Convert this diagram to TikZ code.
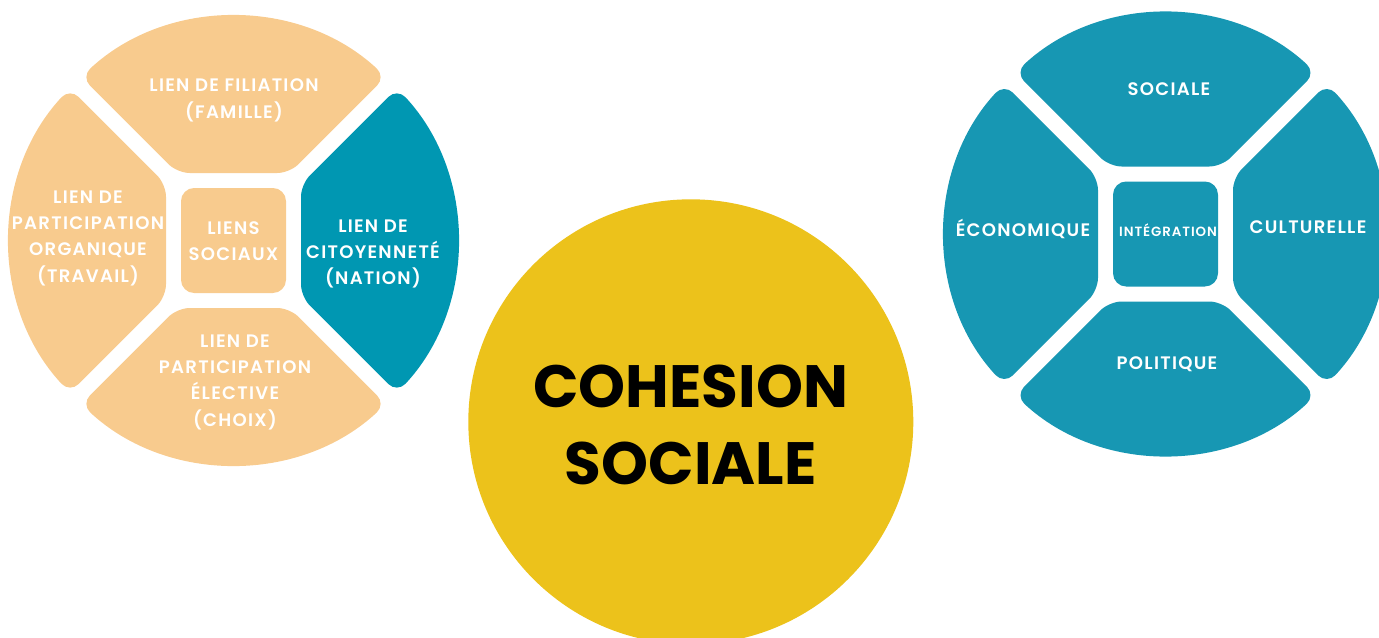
\documentclass[tikz,border=0pt]{standalone}
\usepackage{fontspec}
\setmainfont{Poppins}
\newfontfamily\segfont{Poppins SemiBold}[LetterSpace=7]
\newfontfamily\bigfont{Poppins Bold}
\usepackage{tikz}
\usetikzlibrary{calc}
\definecolor{peach}{HTML}{F8CB8E}
\definecolor{nationblue}{HTML}{0097B2}
\definecolor{integblue}{HTML}{1797B3}
\definecolor{mustard}{HTML}{ECC21B}

\begin{document}
\begin{tikzpicture}[line cap=round,line join=round,x=0.02cm,y=0.02cm,
        seg/.style={rounded corners=7pt},
        core/.style={rounded corners=7.5pt},
        lbl/.style={text=white,align=center,inner sep=0pt,font=\segfont\fontsize{10.3}{15}\selectfont}]
    \useasboundingbox (0,0) rectangle (1379,637);
    % liens sociaux
    \begin{scope}[shift={(233.5,396.5)}]
        \foreach \rot/\col in {0/peach,90/peach,180/peach,270/nationblue}
            \fill [seg,\col,rotate=\rot] (0,67.5) -- (-56.2,67.5) -- (132.95:223.5) arc [start angle=132.95,end angle=47.05,radius=223.5] -- (56.2,67.5) -- cycle;
        \fill [core,peach] (-52.5,-52.5) rectangle (52.5,52.5);
    \end{scope}
    \node [lbl] (filiation) at (234,536.5) {LIEN DE FILIATION\\(FAMILLE)};
    \node [lbl] (organique) at (88,399) {LIEN DE\\PARTICIPATION\\ORGANIQUE\\(TRAVAIL)};
    \node [lbl] (liens) at (233.5,396) {LIENS\\SOCIAUX};
    \node [lbl] (citoyennete) at (373,383) {LIEN DE\\CITOYENNETÉ\\(NATION)};
    \node [lbl] (elective) at (235,255) {LIEN DE\\PARTICIPATION\\ÉLECTIVE\\(CHOIX)};
    % integration
    \begin{scope}[shift={(1165.5,403)}]
        \foreach \rot in {0,90,180,270}
            \fill [seg,integblue,rotate=\rot] (0,67.5) -- (-56.2,67.5) -- (132.92:220.5) arc [start angle=132.92,end angle=47.08,radius=220.5] -- (56.2,67.5) -- cycle;
        \fill [core,integblue] (-52.5,-52.5) rectangle (52.5,52.5);
    \end{scope}
    \node [lbl] (sociale) at (1169,548) {SOCIALE};
    \node [lbl] (economique) at (1023,408) {ÉCONOMIQUE};
    \node [lbl,font=\segfont\fontsize{7.6}{9}\selectfont] (integration) at (1168,407) {INTÉGRATION};
    \node [lbl] (culturelle) at (1308,410) {CULTURELLE};
    \node [lbl] (politique) at (1167,273) {POLITIQUE};
    % cohesion sociale
    \fill [mustard] (690.8,215.2) circle (222.5);
    \node [align=center,inner sep=0pt,font=\bigfont\fontsize{34}{44}\selectfont] (cohesion) at (690.8,212) {COHESION\\SOCIALE};
\end{tikzpicture}
\end{document}
